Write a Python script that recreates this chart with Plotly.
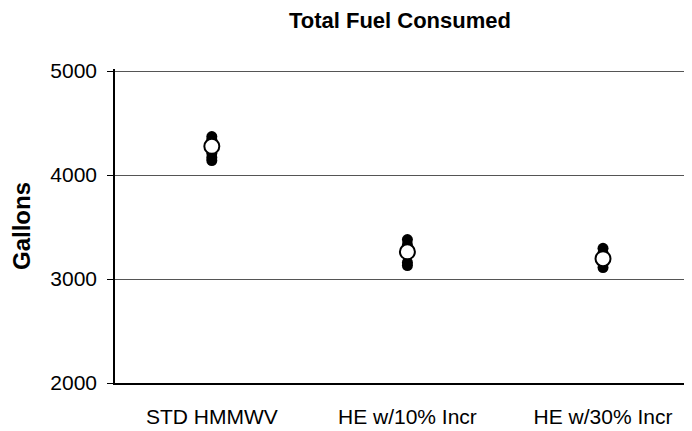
import plotly.graph_objects as go

categories = ["STD HMMWV", "HE w/10% Incr", "HE w/30% Incr"]
runs_std = [4140, 4170, 4210, 4250, 4300, 4340, 4370]
runs_he10 = [3130, 3160, 3230, 3280, 3330, 3380]
runs_he30 = [3110, 3150, 3200, 3250, 3295]
means = [4276, 3262, 3196]
y_ticks = [2000, 3000, 4000, 5000]

runs = [runs_std, runs_he10, runs_he30]

fig = go.Figure()
for i, vals in enumerate(runs):
    fig.add_trace(go.Scatter(
        x=[i] * len(vals), y=vals, mode="markers",
        marker=dict(color="black", size=11, line=dict(width=0)),
        showlegend=False, hoverinfo="y"))
fig.add_trace(go.Scatter(
    x=list(range(len(categories))), y=means, mode="markers",
    marker=dict(color="white", size=15, line=dict(color="black", width=2)),
    showlegend=False, hoverinfo="y"))

fig.update_layout(
    width=684, height=423,
    margin=dict(l=107, r=0, t=61, b=48),
    paper_bgcolor="white", plot_bgcolor="white",
    font=dict(family="Liberation Sans, Arial, sans-serif", color="black"),
    title=dict(text="<b>Total Fuel Consumed</b>", x=0.573, xanchor="center",
               y=0.972, yanchor="middle", yref="container",
               font=dict(size=22, color="black")),
    xaxis=dict(range=[-0.495, 2.455], tickvals=list(range(len(categories))),
               ticktext=categories, showgrid=False, zeroline=False,
               showline=True, linecolor="black", linewidth=1.5,
               ticks="", ticklabelstandoff=14,
               tickfont=dict(size=21, color="black")),
    yaxis=dict(range=[2000, 5020], tickvals=y_ticks,
               showgrid=True, gridcolor="#555555", gridwidth=1,
               zeroline=False, showline=True, linecolor="black", linewidth=1.5,
               ticks="outside", ticklen=6, tickcolor="black",
               ticklabelstandoff=6,
               tickfont=dict(size=21, color="black"),
               title=dict(text="<b>Gallons</b>", standoff=14,
                          font=dict(size=24, color="black"))),
)

fig.write_html("out.html")
